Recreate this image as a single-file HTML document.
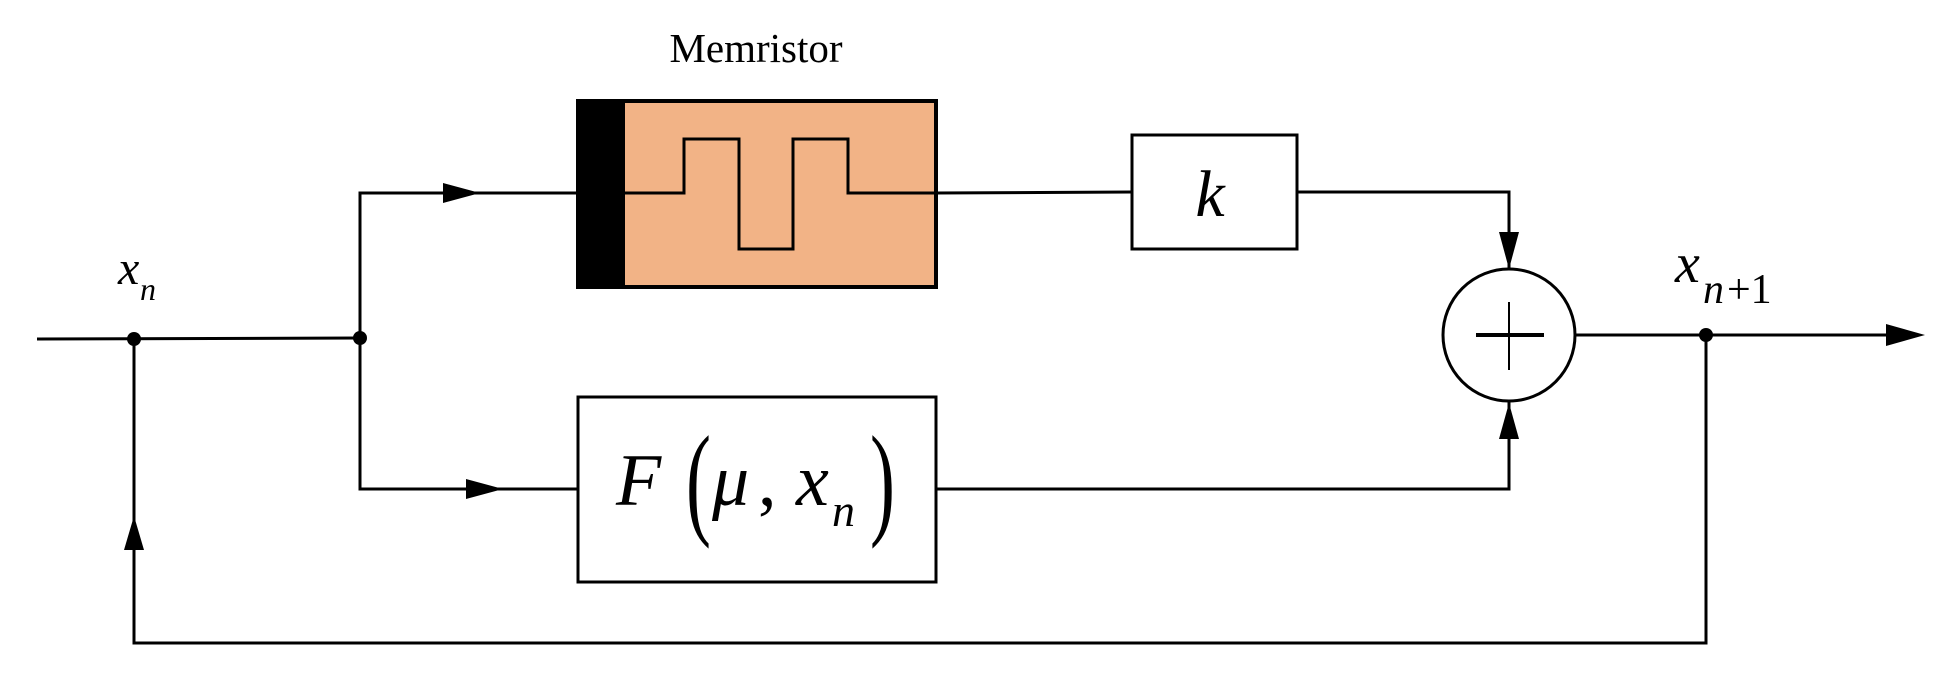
<!DOCTYPE html>
<html><head><meta charset="utf-8"><style>
html,body{margin:0;padding:0;background:#fff;}
svg{display:block;}
text{font-family:"Liberation Serif",serif;fill:#000;}
</style></head><body>
<svg width="1945" height="673" viewBox="0 0 1945 673" xmlns="http://www.w3.org/2000/svg">
<g stroke="#000" stroke-width="3" fill="none">
<line x1="37" y1="339" x2="360" y2="338"/>
<polyline points="360,338 360,193 577,193"/>
<polyline points="360,338 360,489 578,489"/>
<line x1="936" y1="193" x2="1132" y2="192"/>
<polyline points="1297,192 1509,192 1509,269"/>
<polyline points="936,489 1509,489 1509,401"/>
<line x1="1575" y1="335" x2="1900" y2="335"/>
<polyline points="1706,335 1706,643 134,643 134,339"/>
</g>
<g fill="#000">
<polygon points="443,183 443,203 480,193"/>
<polygon points="466,479 466,499 503,489"/>
<polygon points="124,550 144,550 134,516"/>
<polygon points="1499,232 1519,232 1509,269"/>
<polygon points="1499,439 1519,439 1509,403"/>
<polygon points="1886,324 1886,346 1925,335"/>
<circle cx="134" cy="339" r="7"/>
<circle cx="360" cy="338" r="7"/>
<circle cx="1706" cy="335" r="7"/>
</g>
<rect x="578" y="101" width="358" height="186" fill="#f2b386" stroke="#000" stroke-width="4"/>
<rect x="577" y="99" width="48" height="190" fill="#000"/>
<polyline points="625,193 684,193 684,139 739,139 739,249 793,249 793,139 848,139 848,193 936,193" fill="none" stroke="#000" stroke-width="3"/>
<text x="756" y="62" font-size="41" text-anchor="middle">Memristor</text>
<rect x="1132" y="135" width="165" height="114" fill="#fff" stroke="#000" stroke-width="3"/>
<text x="1210" y="216" font-size="66" font-style="italic" text-anchor="middle">k</text>
<rect x="578" y="397" width="358" height="185" fill="#fff" stroke="#000" stroke-width="3"/>
<text x="616" y="505" font-size="74" font-style="italic">F</text>
<text x="0" y="0" font-size="125" transform="translate(686,522) scale(0.6,1)">(</text>
<text x="712" y="505" font-size="74" font-style="italic">μ</text>
<text x="758" y="505" font-size="74">,</text>
<text x="796" y="505" font-size="74" font-style="italic">x</text>
<text x="832" y="526" font-size="46" font-style="italic">n</text>
<text x="0" y="0" font-size="125" transform="translate(870,522) scale(0.6,1)">)</text>
<circle cx="1509" cy="335" r="66" fill="#fff" stroke="#000" stroke-width="3"/>
<line x1="1476" y1="335" x2="1544" y2="335" stroke="#000" stroke-width="4"/>
<line x1="1509" y1="302" x2="1509" y2="370" stroke="#000" stroke-width="2"/>
<text x="118" y="284" font-size="48" font-style="italic">x</text>
<text x="140" y="300" font-size="32" font-style="italic">n</text>
<text x="1675" y="282" font-size="56" font-style="italic">x</text>
<text x="1703" y="303" font-size="42" font-style="italic">n</text>
<text x="1727" y="303" font-size="42">+1</text>
</svg>
</body></html>
